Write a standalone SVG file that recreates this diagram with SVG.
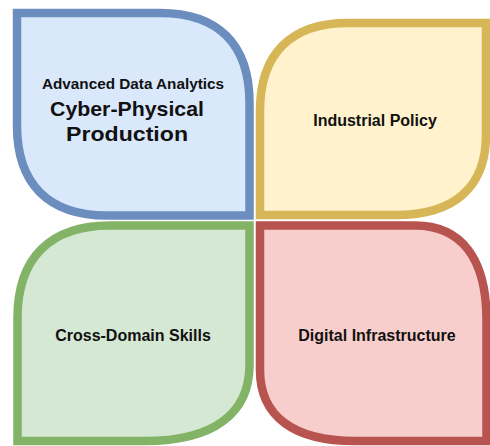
<svg xmlns="http://www.w3.org/2000/svg" width="490" height="446" viewBox="0 0 490 446">
<style>
.leaf{stroke-width:8.5;stroke-linejoin:miter}
.t{font-family:"Liberation Sans",Arial,sans-serif;font-weight:bold;fill:#111;text-anchor:middle}
</style>
<rect width="490" height="446" fill="#ffffff"/>
<g id="node-blue">
<path class="leaf" fill="#dae8fc" stroke="#6c8ebf" d="M17,13 H160 C218.5,13 249.5,44.5 249.5,103 V215.5 H107 C48.5,215.5 17,184 17,125.5 Z"/>
<text class="t" x="133" y="89" font-size="14" textLength="182" lengthAdjust="spacingAndGlyphs">Advanced Data  Analytics</text>
<text class="t" x="127" y="116" font-size="21" textLength="154" lengthAdjust="spacingAndGlyphs">Cyber-Physical</text>
<text class="t" x="127" y="141" font-size="21" textLength="122" lengthAdjust="spacingAndGlyphs">Production</text>
</g>
<g id="node-yellow">
<path class="leaf" fill="#fff2cc" stroke="#d6b656" d="M348,23 H486 V135 C486,187 454.5,215 396,215 H260 V111 C260,53.8 290.8,23 348,23 Z"/>
<text class="t" x="375" y="126" font-size="16">Industrial Policy</text>
</g>
<g id="node-green">
<path class="leaf" fill="#d5e8d4" stroke="#82b366" d="M110,225.5 H249.5 V365 C249.5,414 213,441 145,441 H17.5 V318 C17.5,258 50,225.5 110,225.5 Z"/>
<text class="t" x="133" y="341" font-size="16">Cross-Domain Skills</text>
</g>
<g id="node-red">
<path class="leaf" fill="#f8cecc" stroke="#b85450" d="M260,225.5 H415 C461,225.5 486.5,258 486.5,320 V441 H355 C293,441 260,416 260,370 Z"/>
<text class="t" x="377" y="341" font-size="16">Digital Infrastructure</text>
</g>
<g id="connectors"></g>
</svg>
